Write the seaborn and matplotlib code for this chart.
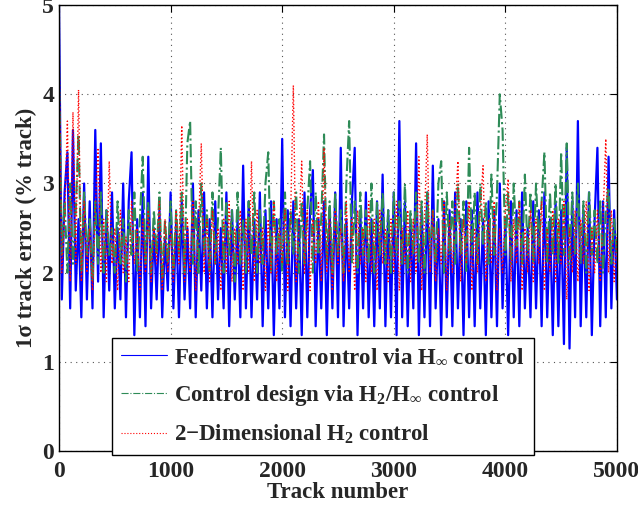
import numpy as np
import pandas as pd
import seaborn as sns
import matplotlib.pyplot as plt
from matplotlib.lines import Line2D

# track error samples (every 25 tracks)
track = np.arange(0, 5001, 25)

feedforward = [
    5.0, 1.7, 2.9, 3.35, 1.6, 3.6, 1.8, 2.6, 1.5, 3.0,
    1.7, 2.8, 1.6, 3.6, 1.9, 3.45, 1.5, 2.7, 1.8, 2.9,
    1.6, 2.5, 1.7, 3.0, 1.5, 2.8, 3.35, 1.3, 2.6, 1.5,
    2.9, 1.4, 3.3, 1.6, 2.5, 1.7, 2.7, 1.5, 2.4, 1.8,
    2.9, 1.6, 2.6, 1.5, 2.8, 1.7, 2.5, 1.6, 3.0, 1.5,
    2.7, 1.8, 2.9, 1.6, 2.6, 1.5, 2.8, 1.7, 2.5, 1.6,
    2.9, 1.4, 2.7, 1.7, 2.6, 1.5, 3.2, 1.6, 2.8, 1.5,
    2.6, 1.7, 2.9, 1.4, 2.7, 1.6, 2.8, 1.3, 2.6, 1.6,
    3.5, 1.5, 2.7, 1.4, 2.8, 1.6, 2.6, 1.3, 2.9, 1.5,
    2.7, 3.15, 1.4, 2.6, 1.6, 2.8, 1.3, 2.7, 1.6, 2.9,
    1.5, 3.4, 1.4, 2.6, 1.6, 2.8, 3.4, 1.3, 2.7, 1.6,
    2.9, 1.5, 2.6, 1.4, 2.8, 1.6, 3.1, 1.4, 2.7, 1.5,
    2.9, 1.3, 3.7, 1.5, 2.8, 1.4, 2.6, 1.6, 3.45, 1.3,
    2.7, 1.5, 2.9, 1.4, 3.2, 1.6, 2.6, 1.3, 2.8, 1.5,
    2.7, 1.4, 2.9, 1.6, 2.6, 1.3, 2.8, 1.5, 2.7, 1.4,
    2.9, 1.6, 2.6, 1.3, 2.8, 1.5, 2.7, 1.4, 3.0, 1.6,
    2.6, 1.3, 2.8, 1.5, 2.7, 1.4, 2.9, 1.6, 2.5, 1.5,
    2.8, 1.6, 2.7, 1.4, 2.9, 1.5, 2.6, 1.3, 2.8, 1.4,
    2.7, 1.2, 3.4, 1.15, 2.8, 1.5, 3.7, 1.4, 2.7, 1.5,
    2.9, 1.3, 2.6, 3.4, 1.4, 2.8, 1.5, 3.3, 1.6, 2.7,
    1.7]

mixed_h2_hinf = [
    4.3, 2.2, 2.8, 2.0, 3.0, 2.1, 2.7, 3.55, 2.0, 2.9,
    2.2, 2.6, 1.9, 2.8, 2.1, 2.9, 2.0, 2.7, 2.2, 2.5,
    2.0, 2.8, 2.1, 2.6, 1.9, 2.7, 2.2, 2.9, 2.0, 2.6,
    3.3, 2.1, 2.8, 2.0, 2.7, 2.2, 2.9, 1.9, 2.6, 2.1,
    2.8, 2.0, 2.7, 2.2, 2.9, 2.0, 3.45, 3.7, 2.1, 2.8,
    2.0, 3.0, 2.2, 2.7, 2.0, 2.9, 2.1, 2.6, 3.4, 2.0,
    2.8, 2.2, 2.7, 1.9, 2.9, 2.1, 2.6, 2.0, 2.8, 2.2,
    2.9, 2.0, 2.7, 2.1, 3.0, 3.35, 2.0, 2.8, 2.2, 2.6,
    2.0, 2.9, 2.1, 2.7, 2.2, 2.9, 2.0, 2.8, 2.1, 2.7,
    3.25, 2.0, 2.9, 2.2, 2.6, 3.55, 2.1, 2.8, 2.0, 2.9,
    2.2, 2.7, 2.0, 3.0, 3.7, 2.1, 2.8, 2.0, 2.9, 2.2,
    2.7, 2.1, 3.0, 2.0, 2.8, 2.2, 2.9, 2.1, 2.7, 2.0,
    2.9, 2.2, 2.8, 2.1, 3.0, 2.0, 2.7, 2.2, 2.9, 2.1,
    2.8, 2.0, 2.9, 2.2, 2.7, 2.1, 3.0, 3.25, 2.0, 2.9,
    2.2, 2.8, 2.1, 3.0, 2.2, 2.8, 2.0, 3.4, 2.2, 2.9,
    2.1, 3.0, 2.3, 2.8, 2.1, 3.1, 2.2, 2.9, 4.0, 3.6,
    2.2, 2.9, 2.1, 3.0, 2.3, 2.8, 2.1, 3.1, 2.2, 2.9,
    2.1, 3.0, 2.3, 2.8, 3.35, 2.1, 2.9, 2.2, 3.0, 2.1,
    3.35, 2.2, 3.45, 2.1, 2.9, 2.2, 3.0, 2.1, 2.8, 2.0,
    2.9, 2.2, 2.7, 2.1, 2.8, 2.0, 2.7, 2.95, 2.1, 2.6,
    2.2]

h2_2d = [
    4.6, 2.0, 2.6, 3.7, 1.9, 3.8, 2.1, 4.05, 1.9, 2.8,
    2.0, 2.5, 1.8, 2.7, 3.4, 2.0, 2.6, 1.9, 3.25, 2.1,
    2.5, 1.8, 2.7, 2.0, 2.4, 1.9, 2.8, 2.1, 2.5, 1.8,
    2.6, 2.0, 2.7, 1.9, 2.5, 2.1, 2.8, 1.8, 2.6, 2.0,
    2.5, 1.9, 2.7, 2.1, 3.65, 1.9, 2.6, 2.0, 2.8, 1.8,
    2.5, 3.45, 2.0, 2.6, 1.9, 2.7, 2.1, 2.5, 1.8, 2.6,
    2.0, 2.8, 1.9, 2.5, 2.1, 2.7, 1.8, 2.6, 2.0, 3.25,
    1.9, 2.7, 2.1, 2.5, 1.8, 2.6, 2.0, 2.8, 1.9, 2.5,
    2.1, 2.7, 1.8, 2.6, 4.1, 1.9, 2.5, 3.25, 2.0, 2.7,
    1.8, 2.6, 2.1, 2.8, 1.9, 3.4, 2.0, 2.6, 1.8, 2.7,
    2.1, 2.5, 1.9, 2.8, 2.0, 2.6, 1.8, 2.7, 2.1, 2.5,
    1.9, 2.8, 2.0, 2.6, 1.8, 2.7, 2.1, 2.5, 1.9, 2.6,
    2.0, 2.8, 1.8, 2.5, 2.1, 2.7, 1.9, 2.6, 2.0, 3.3,
    1.8, 2.6, 3.55, 2.0, 2.7, 1.9, 2.5, 2.1, 2.8, 1.8,
    2.6, 2.0, 2.7, 3.25, 1.9, 2.6, 2.1, 2.8, 1.8, 2.5,
    2.0, 2.7, 3.2, 1.9, 2.6, 2.1, 2.8, 1.8, 2.5, 2.0,
    2.7, 3.05, 1.9, 2.6, 2.1, 2.8, 1.8, 2.5, 2.0, 2.7,
    1.9, 2.6, 2.1, 2.8, 1.8, 2.5, 2.0, 2.7, 1.9, 2.6,
    2.1, 2.8, 1.7, 2.5, 2.0, 2.7, 1.9, 2.6, 2.1, 2.8,
    1.8, 2.5, 2.0, 2.7, 1.9, 2.6, 3.5, 2.0, 2.7, 1.9,
    2.4]

labels = [r"Feedforward control via H$_\infty$ control",
          r"Control design via H$_2$/H$_\infty$ control",
          r"2$-$Dimensional H$_2$ control"]

sns.set_style("white")
plt.rcParams['font.family'] = ['Liberation Serif', 'DejaVu Serif']
plt.rcParams['font.weight'] = 'bold'
plt.rcParams['mathtext.fontset'] = 'custom'
plt.rcParams['mathtext.rm'] = 'Liberation Serif:bold'
plt.rcParams['mathtext.it'] = 'Liberation Serif:bold'
plt.rcParams['mathtext.bf'] = 'Liberation Serif:bold'
plt.rcParams['mathtext.default'] = 'rm'

fig = plt.figure(figsize=(6.38, 5.08), dpi=100)
ax = fig.add_axes([0.0925, 0.112, 0.8745, 0.878])

sns.lineplot(x=track, y=feedforward, ax=ax, color='#0000ff', lw=1.6)
sns.lineplot(x=track, y=mixed_h2_hinf, ax=ax, color='#2e8b57', lw=1.5, linestyle='-.')
sns.lineplot(x=track, y=h2_2d, ax=ax, color='#ff0000', lw=1.0, linestyle=':')

ax.set_xlim(0, 5000)
ax.set_ylim(0, 5)
ax.set_xticks([0, 1000, 2000, 3000, 4000, 5000])
ax.set_yticks([0, 1, 2, 3, 4, 5])
ax.grid(True, color='#555555', linestyle=(0, (1, 4)), lw=0.8)
ax.tick_params(direction='in', top=True, right=True, labelsize=17, length=5, color='black')
ax.tick_params(axis='x', pad=7)
for s in ax.spines.values():
    s.set_color('black')
    s.set_linewidth(1.0)
ax.set_xlabel("Track number", fontsize=16.5, fontweight='bold', labelpad=0)
ax.set_ylabel("1σ track error (% track)", fontsize=16.5, fontweight='bold', labelpad=4)

handles = [Line2D([], [], color='#0000ff', lw=0.8),
           Line2D([], [], color='#2e8b57', lw=0.8, linestyle='-.'),
           Line2D([], [], color='#ff0000', lw=0.8, linestyle=':')]
leg = ax.legend(handles, labels, loc='lower left', bbox_to_anchor=(0.095, -0.009),
                fontsize=16.5, frameon=True, fancybox=False, framealpha=1,
                edgecolor='black', handlelength=2.0, handletextpad=0.3,
                borderpad=0.4, labelspacing=0.65, borderaxespad=0)
leg.get_frame().set_linewidth(1.0)

fig.savefig("out.png", dpi=100)
